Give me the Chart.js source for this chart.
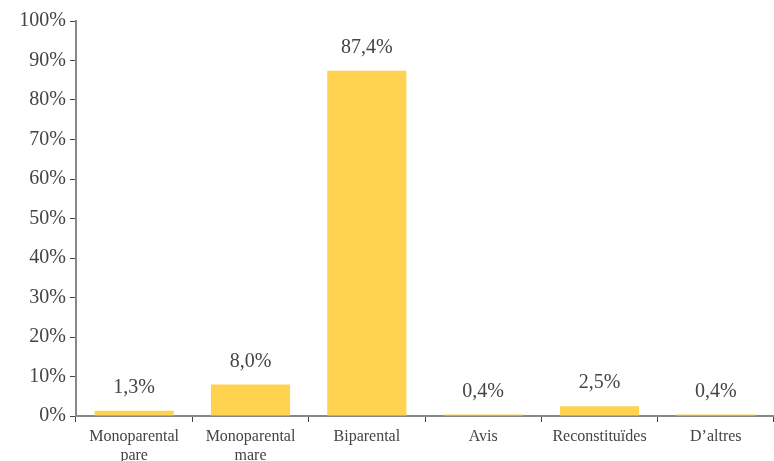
<!DOCTYPE html>
<html>
<head>
<meta charset="utf-8">
<script src="https://cdn.jsdelivr.net/npm/chart.js@4"></script>
<style>
  html, body { margin: 0; padding: 0; background: #fff; }
  #wrap { width: 774px; height: 461px; }
</style>
</head>
<body>
<div id="wrap"><canvas id="chart"></canvas></div>
<script>
// Tipus de llar, percentatge
const categories = [['Monoparental', 'pare'], ['Monoparental', 'mare'], 'Biparental', 'Avis', 'Reconstituïdes', 'D’altres'];
const values = [1.3, 8.0, 87.4, 0.4, 2.5, 0.4];
const yTicks = [0, 10, 20, 30, 40, 50, 60, 70, 80, 90, 100];

const fmt = (v, dec) => v.toFixed(dec).replace('.', ',') + '%';

// etiquetes damunt de cada barra
const barLabels = {
  id: 'barLabels',
  afterDatasetsDraw(chart) {
    const ctx = chart.ctx;
    const meta = chart.getDatasetMeta(0);
    ctx.save();
    ctx.font = '20px "Liberation Serif", serif';
    ctx.fillStyle = '#444';
    ctx.textAlign = 'center';
    ctx.textBaseline = 'middle';
    meta.data.forEach((bar, i) => {
      ctx.fillText(fmt(values[i], 1), bar.x, bar.y - 23);
    });
    ctx.restore();
  }
};

new Chart(document.getElementById('chart'), {
  type: 'bar',
  data: {
    labels: categories,
    datasets: [{
      data: values,
      backgroundColor: '#FFD24F',
      barPercentage: 0.68,
      categoryPercentage: 1,
    }]
  },
  options: {
    responsive: true,
    maintainAspectRatio: false,
    animation: false,
    layout: { padding: { top: 21, right: 0, left: 0, bottom: 0 } },
    plugins: { legend: { display: false }, tooltip: { enabled: false } },
    scales: {
      x: {
        afterFit(scale) { scale.height = 45; },
        grid: { display: true, drawOnChartArea: false, drawTicks: true, tickLength: 6, color: '#444', offset: true },
        border: { display: true, color: '#888', width: 2 },
        ticks: {
          color: '#444',
          padding: 5,
          maxRotation: 0,
          autoSkip: false,
          font: { family: '"Liberation Serif", serif', size: 16, lineHeight: 1.2 }
        }
      },
      y: {
        min: 0,
        max: 100,
        afterFit(scale) { scale.width = 76; },
        afterBuildTicks(scale) { scale.ticks = yTicks.map((v) => ({ value: v })); },
        grid: { display: true, drawOnChartArea: false, drawTicks: true, tickLength: 6, color: '#444' },
        border: { display: true, color: '#888', width: 2 },
        ticks: {
          color: '#444',
          padding: 4,
          font: { family: '"Liberation Serif", serif', size: 20 },
          callback(value) { return value + '%'; }
        }
      }
    }
  },
  plugins: [barLabels]
});
</script>
</body>
</html>
